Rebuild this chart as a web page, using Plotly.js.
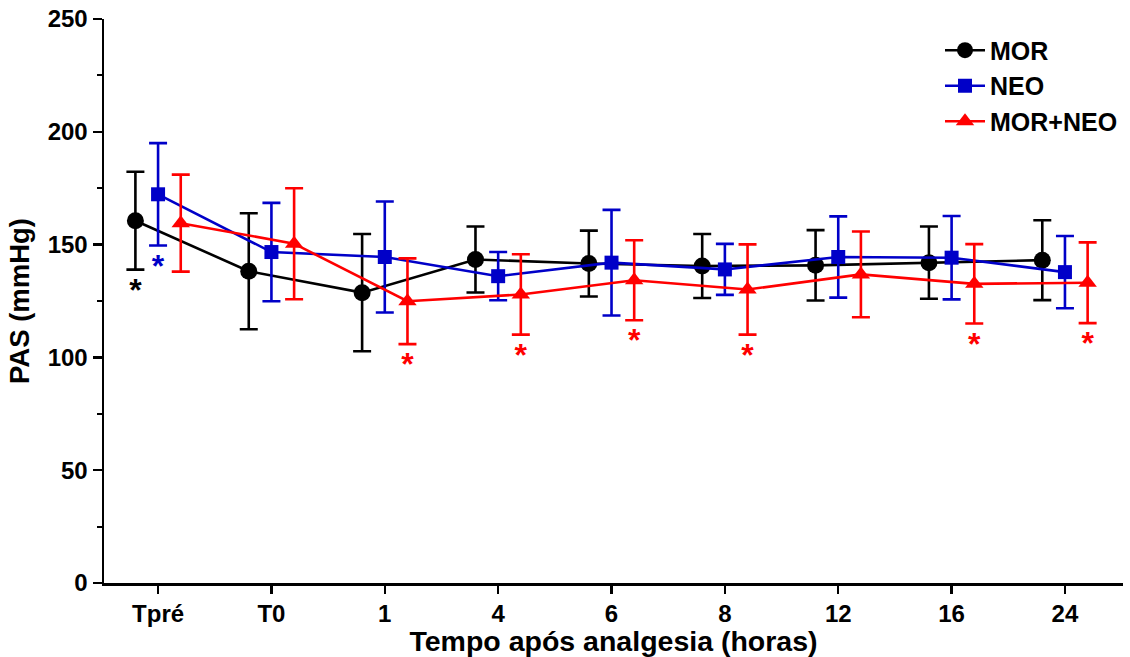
<!DOCTYPE html>
<html>
<head>
<meta charset="utf-8">
<script src="https://cdn.plot.ly/plotly-3.0.1.min.js"></script>
<style>
  html, body { margin: 0; padding: 0; background: #fff; }
  #chart { width: 1130px; height: 657px; }
</style>
</head>
<body>
<div id="chart"></div>
<script>
// ---- data ----
const categories = ['Tpré', 'T0', '1', '4', '6', '8', '12', '16', '24'];

const morMean = [160.6, 138.2, 128.7, 143.4, 141.6, 140.5, 140.8, 142.0, 143.1];
const morSD   = [21.7, 25.7, 26.0, 14.6, 14.6, 14.2, 15.6, 16.0, 17.7];

const neoMean = [172.3, 146.7, 144.5, 136.0, 142.0, 139.0, 144.5, 144.2, 137.8];
const neoSD   = [22.7, 21.8, 24.6, 10.7, 23.4, 11.3, 18.0, 18.5, 16.0];

const mixMean = [159.5, 150.4, 124.9, 127.9, 134.2, 130.1, 136.8, 132.6, 133.1];
const mixSD   = [21.5, 24.6, 19.0, 17.8, 17.7, 20.0, 19.0, 17.6, 17.9];

// significance marks (asterisk under the lower error bar)
const morSig = [true, false, false, false, false, false, false, false, false];
const neoSig = [true, false, false, false, false, false, false, false, false];
const mixSig = [false, false, true, true, true, true, false, true, true];

const seriesNames = ['MOR', 'NEO', 'MOR+NEO'];

// ---- styles ----
const FONT = 'Liberation Sans, Arial, Helvetica, sans-serif';
const colors = ['#000000', '#0000c8', '#ff0000'];
const symbols = ['circle', 'square', 'triangle-up'];
const sizes = [17, 14, 16];

function lineTrace(idx, mean, sd) {
  return {
    type: 'scatter',
    mode: 'lines+markers',
    name: seriesNames[idx],
    x: categories,
    y: mean,
    offsetgroup: 'g' + idx,
    line: { color: colors[idx], width: 2.6 },
    marker: { color: colors[idx], symbol: symbols[idx], size: sizes[idx] },
    error_y: { type: 'data', array: sd, visible: true, color: colors[idx], thickness: 2.6, width: 9 },
    cliponaxis: false,
    hoverinfo: 'x+y'
  };
}

function starTrace(idx, mean, sd, sig) {
  const x = [], y = [];
  categories.forEach((c, i) => {
    if (sig[i]) { x.push(c); y.push(mean[i] - sd[i]); }
  });
  return {
    type: 'scatter',
    mode: 'markers+text',
    x: x,
    y: y,
    text: x.map(() => '*'),
    textposition: 'bottom center',
    textfont: { family: FONT, size: 32, color: colors[idx], weight: 'bold' },
    marker: { size: 10, color: 'rgba(0,0,0,0)', line: { width: 0 } },
    offsetgroup: 'g' + idx,
    showlegend: false,
    hoverinfo: 'skip',
    cliponaxis: false
  };
}

const data = [
  lineTrace(0, morMean, morSD),
  lineTrace(1, neoMean, neoSD),
  lineTrace(2, mixMean, mixSD),
  starTrace(0, morMean, morSD, morSig),
  starTrace(1, neoMean, neoSD, neoSig),
  starTrace(2, mixMean, mixSD, mixSig)
];

const layout = {
  width: 1130,
  height: 657,
  paper_bgcolor: '#ffffff',
  plot_bgcolor: '#ffffff',
  margin: { l: 104, r: 7, t: 19, b: 74 },
  scattermode: 'group',
  scattergap: 0.4,
  font: { family: FONT, color: '#000000' },
  showlegend: true,
  legend: {
    x: 1, xanchor: 'right',
    y: 0.985, yanchor: 'top',
    bgcolor: 'rgba(0,0,0,0)',
    font: { family: FONT, size: 25, color: '#000', weight: 'bold' },
    tracegroupgap: 0,
    itemwidth: 40
  },
  xaxis: {
    type: 'category',
    categoryorder: 'array',
    categoryarray: categories,
    range: [-0.477, 8.512],
    showgrid: false,
    zeroline: false,
    showline: true,
    linecolor: '#000',
    linewidth: 2.5,
    ticks: 'outside',
    ticklen: 8,
    tickwidth: 2.5,
    tickcolor: '#000',
    tickfont: { family: FONT, size: 24, color: '#000', weight: 'bold' },
    title: {
      text: 'Tempo após analgesia (horas)',
      font: { family: FONT, size: 28.5, color: '#000', weight: 'bold' },
      standoff: 5
    }
  },
  yaxis: {
    range: [0, 250],
    tickvals: [0, 50, 100, 150, 200, 250],
    showgrid: false,
    zeroline: false,
    showline: true,
    linecolor: '#000',
    linewidth: 2.5,
    ticks: 'outside',
    ticklen: 9,
    tickwidth: 2.5,
    tickcolor: '#000',
    minor: { dtick: 25, tick0: 0, ticks: 'outside', ticklen: 5, tickwidth: 2, tickcolor: '#000', showgrid: false },
    tickfont: { family: FONT, size: 24, color: '#000', weight: 'bold' },
    title: {
      text: 'PAS (mmHg)',
      font: { family: FONT, size: 27.5, color: '#000', weight: 'bold' },
      standoff: 10
    }
  }
};

Plotly.newPlot('chart', data, layout, { displayModeBar: false, staticPlot: true });
</script>
</body>
</html>
